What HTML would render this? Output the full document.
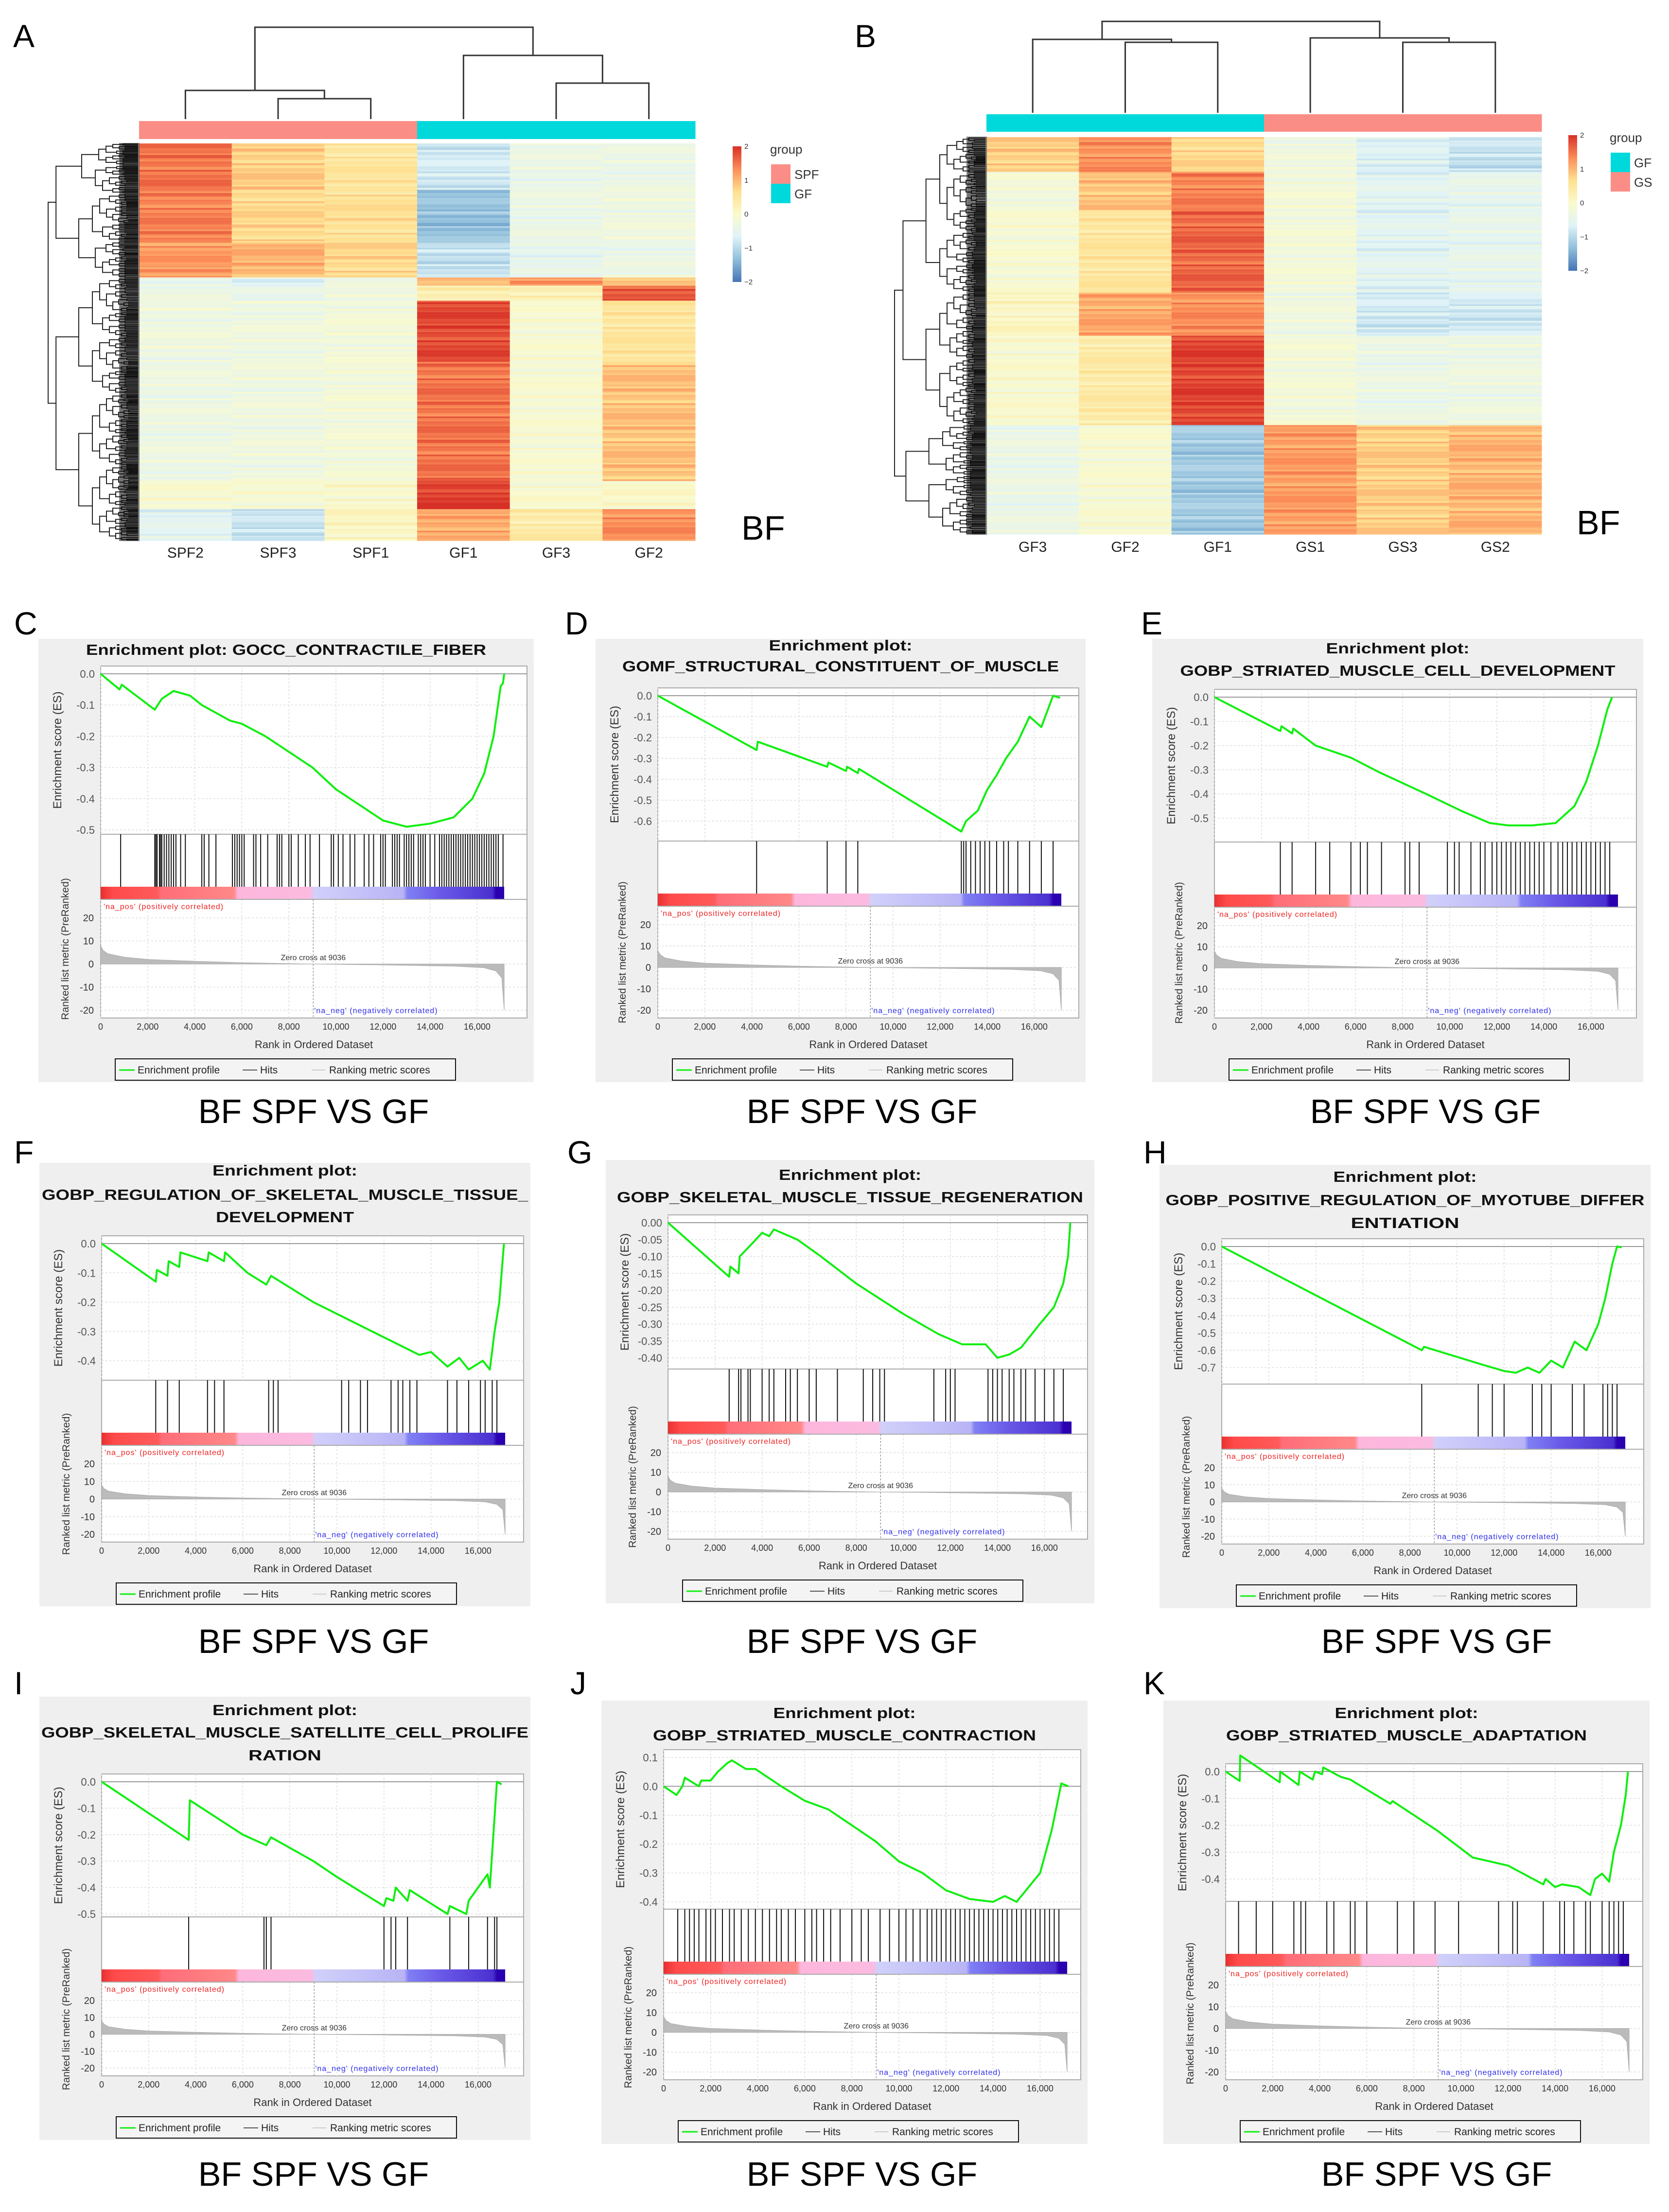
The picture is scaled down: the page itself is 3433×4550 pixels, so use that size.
<!DOCTYPE html>
<html><head><meta charset="utf-8">
<style>
html,body{margin:0;padding:0;background:#fff;}
svg{display:block;font-family:"Liberation Sans",sans-serif;}
</style></head>
<body>
<svg id="fig" xmlns="http://www.w3.org/2000/svg" width="3433" height="4550" viewBox="0 0 3433 4550">
<rect x="0" y="0" width="3433" height="4550" fill="#fff"/>
</svg>
<script>
// ---------- Heatmap data ----------
const colsA = ['SPF2','SPF3','SPF1','GF1','GF3','GF2'];
const groupA = ['SPF','SPF','SPF','GF','GF','GF'];
const segBoundsA = [0, 0.118, 0.251, 0.339, 0.357, 0.394, 0.551, 0.850, 0.919, 1];
const segValsA = [
 [1.5,0.8,0.5,-0.8,-0.4,-0.4],
 [1.4,0.7,0.6,-1.3,-0.4,-0.3],
 [1.2,1.0,0.7,-0.9,-0.5,-0.4],
 [-0.4,-0.7,-0.4,0.9,1.2,0.9],
 [-0.4,-0.5,-0.3,0.3,0.3,1.7],
 [-0.3,-0.3,-0.2,1.8,-0.1,0.5],
 [-0.35,-0.3,-0.2,1.5,-0.1,0.9],
 [-0.1,-0.1,0,1.9,-0.05,0],
 [-0.6,-0.9,0.1,1.1,0.4,1.3]
];
const colsB = ['GF3','GF2','GF1','GS1','GS3','GS2'];
const groupB = ['GF','GF','GF','GS','GS','GS'];
const segBoundsB = [0, 0.086, 0.184, 0.392, 0.502, 0.724, 1];
const segValsB = [
 [0.8,1.3,0.7,-0.3,-0.7,-0.9],
 [-0.2,0.9,1.4,-0.2,-0.6,-0.5],
 [-0.1,0.5,1.6,-0.2,-0.6,-0.5],
 [0.1,1.1,1.3,-0.3,-0.8,-0.8],
 [-0.05,0.4,1.85,-0.2,-0.4,-0.35],
 [-0.4,-0.1,-1.2,1.2,0.8,1.0]
];
const stripe = [0.15,-0.2,0.05,0.3,-0.1,0,-0.25,0.2,0.1,-0.05,0.25,-0.15,0.05,-0.3,0.15,0,0.2,-0.1,0.1,-0.2,0.3,-0.05,0];
const legendTicks = [2,1,0,-1,-2];

// ---------- GSEA data ----------
const xTicks = [0,2000,4000,6000,8000,10000,12000,14000,16000];
const xTickLabels = ['0','2,000','4,000','6,000','8,000','10,000','12,000','14,000','16,000'];
const metricTicks = [20,10,0,-10,-20];
const metricCurve = [[0,8],[0.1,6],[0.3,4.5],[1,3],[2,2],[4,1.2],[6,0.6],[9.036,0],[12,-0.4],[15,-0.9],[16.3,-1.6],[16.8,-3],[17.05,-6],[17.15,-20]];

const C_ticks=[0,-0.1,-0.2,-0.3,-0.4,-0.5];
const C_curve=[[0,0],[0.8,-0.05],[0.9,-0.035],[2.3,-0.115],[2.6,-0.08],[3.1,-0.055],[3.8,-0.07],[4.3,-0.1],[5.5,-0.15],[6,-0.16],[7,-0.2],[9,-0.3],[10,-0.37],[11,-0.42],[12,-0.47],[13,-0.49],[14,-0.48],[15,-0.46],[15.8,-0.4],[16.3,-0.32],[16.7,-0.2],[17,-0.04],[17.1,-0.03],[17.15,0]];
const C_hits=[0.85,2.3,2.35,2.4,2.5,2.55,2.6,2.7,2.8,2.9,3.0,3.1,3.2,3.4,3.6,4.3,4.4,4.6,4.9,5.6,5.7,5.8,5.9,6.0,6.1,6.5,6.6,6.8,7.1,7.5,7.6,7.7,8.0,8.1,8.4,8.7,8.9,9.3,9.8,9.9,10.1,10.3,10.6,10.8,11.2,11.4,11.6,11.9,12.0,12.1,12.4,12.5,12.6,12.7,12.9,13.0,13.1,13.2,13.3,13.5,13.6,13.7,13.8,14.0,14.2,14.4,14.5,14.6,14.7,14.8,14.9,15.0,15.1,15.2,15.3,15.4,15.5,15.6,15.7,15.8,15.9,16.0,16.1,16.2,16.3,16.4,16.5,16.6,16.7,16.8,16.9,17.1];

const D_ticks=[0,-0.1,-0.2,-0.3,-0.4,-0.5,-0.6];
const D_curve=[[0,0],[4.2,-0.26],[4.25,-0.22],[7.2,-0.34],[7.25,-0.32],[8,-0.36],[8.05,-0.34],[8.5,-0.37],[8.55,-0.35],[12.9,-0.65],[13.1,-0.6],[13.6,-0.55],[14,-0.45],[14.4,-0.38],[14.8,-0.3],[15.3,-0.22],[15.8,-0.1],[16.3,-0.15],[16.8,0],[17.1,-0.01]];
const D_hits=[4.2,7.2,8.0,8.5,12.9,13.0,13.1,13.3,13.5,13.7,13.9,14.1,14.4,14.7,14.9,15.3,15.8,16.3,16.8];

const E_ticks=[0,-0.1,-0.2,-0.3,-0.4,-0.5];
const E_curve=[[0,0],[2.8,-0.14],[2.85,-0.12],[3.3,-0.15],[3.35,-0.13],[4.3,-0.2],[5.8,-0.25],[7,-0.31],[9,-0.4],[10.5,-0.47],[11.7,-0.52],[12.5,-0.53],[13.5,-0.53],[14.5,-0.52],[15.3,-0.45],[15.8,-0.35],[16.3,-0.2],[16.7,-0.05],[16.9,0]];
const E_hits=[2.8,3.3,4.3,4.9,5.8,6.2,6.5,7.1,8.1,8.3,8.7,9.9,10.2,10.4,10.9,11.3,11.5,11.8,12.0,12.2,12.4,12.6,12.8,13.0,13.2,13.4,13.6,13.8,14.0,14.3,14.6,14.8,15.0,15.2,15.4,15.6,15.8,16.0,16.2,16.4,16.6,16.8];

const F_ticks=[0,-0.1,-0.2,-0.3,-0.4];
const F_curve=[[0,0],[2.3,-0.13],[2.35,-0.09],[2.8,-0.11],[2.85,-0.06],[3.3,-0.08],[3.35,-0.03],[4.5,-0.06],[4.55,-0.03],[5.2,-0.06],[5.25,-0.03],[6.2,-0.1],[7,-0.14],[7.2,-0.11],[9,-0.2],[10,-0.24],[11.5,-0.3],[12.5,-0.34],[13.5,-0.38],[14,-0.37],[14.7,-0.42],[15.2,-0.39],[15.6,-0.43],[16.2,-0.4],[16.5,-0.43],[16.7,-0.3],[16.9,-0.2],[17.1,0]];
const F_hits=[2.3,2.8,3.3,4.5,4.8,5.2,7.1,7.3,7.5,10.2,10.5,11.0,11.3,12.3,12.6,12.8,13.1,13.4,14.7,15.1,15.6,16.1,16.3,16.6,16.8];

const G_ticks=[0,-0.05,-0.1,-0.15,-0.2,-0.25,-0.3,-0.35,-0.4];
const G_curve=[[0,0],[2.6,-0.16],[2.65,-0.13],[3,-0.15],[3.05,-0.1],[3.6,-0.06],[4,-0.03],[4.3,-0.04],[4.5,-0.02],[5.5,-0.05],[6.5,-0.1],[8,-0.18],[10,-0.27],[11.5,-0.33],[12.5,-0.36],[13.5,-0.36],[14,-0.4],[14.5,-0.39],[15,-0.37],[15.8,-0.3],[16.4,-0.25],[16.8,-0.18],[17,-0.1],[17.1,0]];
const G_hits=[2.6,3.0,3.1,3.4,3.5,4.0,4.3,4.5,5.0,5.2,5.5,6.0,6.3,7.2,8.3,8.7,9.0,9.2,11.3,11.8,12.0,12.2,13.6,13.8,14.0,14.2,14.5,14.7,15.0,15.2,15.6,16.0,16.4,16.8];

const H_ticks=[0,-0.1,-0.2,-0.3,-0.4,-0.5,-0.6,-0.7];
const H_curve=[[0,0],[8.5,-0.6],[8.6,-0.58],[11,-0.68],[12,-0.72],[12.5,-0.73],[13,-0.7],[13.5,-0.73],[14,-0.66],[14.5,-0.7],[15,-0.55],[15.5,-0.6],[16,-0.45],[16.3,-0.3],[16.6,-0.1],[16.8,0],[17,-0.005]];
const H_hits=[8.5,10.9,11.5,12.0,13.2,13.6,14.0,14.9,15.4,16.2,16.4,16.6,16.8];

const I_ticks=[0,-0.1,-0.2,-0.3,-0.4,-0.5];
const I_curve=[[0,0],[3.7,-0.22],[3.75,-0.07],[6,-0.2],[7,-0.24],[7.2,-0.21],[9,-0.3],[10,-0.36],[12,-0.47],[12.1,-0.44],[12.4,-0.45],[12.5,-0.4],[13,-0.45],[13.1,-0.41],[14.7,-0.5],[14.8,-0.47],[15.5,-0.5],[15.6,-0.45],[16.4,-0.35],[16.5,-0.4],[16.8,0],[17,-0.01]];
const I_hits=[3.7,6.9,7.0,7.2,12.0,12.3,12.5,13.0,14.8,15.6,16.4,16.7,16.8];

const J_ticks=[0.1,0,-0.1,-0.2,-0.3,-0.4];
const J_curve=[[0,0],[0.55,-0.03],[0.8,0.0],[0.9,0.03],[1.5,0.0],[1.6,0.02],[2.0,0.02],[2.3,0.05],[2.7,0.08],[2.9,0.09],[3.5,0.06],[3.9,0.06],[5.0,0.0],[6,-0.05],[7,-0.08],[9,-0.19],[10,-0.26],[11,-0.3],[12,-0.36],[13,-0.39],[14,-0.4],[14.5,-0.38],[15,-0.4],[16,-0.3],[16.5,-0.15],[16.9,0.01],[17.2,0]];
const J_hits=[0.6,0.9,1.1,1.3,1.5,1.8,2.0,2.2,2.5,2.8,3.0,3.3,3.6,3.9,4.2,4.5,4.8,5.0,5.3,5.6,6.0,6.3,6.5,6.8,7.1,7.5,8.0,8.4,8.7,9.2,9.6,10.0,10.3,10.6,10.9,11.2,11.4,11.6,11.8,12.0,12.2,12.4,12.6,12.8,13.0,13.2,13.4,13.6,13.8,14.0,14.2,14.4,14.6,14.8,15.0,15.2,15.4,15.6,15.8,16.0,16.2,16.4,16.6,16.8];

const K_ticks=[0,-0.1,-0.2,-0.3,-0.4];
const K_curve=[[0,0],[0.6,-0.035],[0.62,0.06],[2.3,-0.04],[2.32,0.0],[3.1,-0.05],[3.15,0.0],[3.7,-0.03],[3.8,0.0],[4.1,-0.01],[4.15,0.015],[4.9,-0.02],[5.3,-0.03],[7,-0.12],[7.1,-0.11],[9,-0.22],[10.5,-0.32],[11,-0.33],[12,-0.35],[13.5,-0.42],[13.6,-0.4],[14,-0.43],[14.3,-0.42],[15,-0.43],[15.5,-0.46],[15.7,-0.4],[16,-0.38],[16.3,-0.41],[16.5,-0.3],[16.8,-0.2],[17,-0.09],[17.1,0]];
const K_hits=[0.55,1.3,2.0,2.9,3.2,3.4,4.3,4.6,5.3,5.5,6.0,7.3,8.0,8.9,9.9,11.6,12.2,12.4,13.5,14.2,14.4,14.8,15.3,15.5,16.0,16.3,16.5,16.7,16.9];

// ---------- helpers ----------
const NS='http://www.w3.org/2000/svg';
const svg=document.getElementById('fig');
function mk(tag,attrs,parent){const e=document.createElementNS(NS,tag);for(const k in attrs)e.setAttribute(k,attrs[k]);(parent||svg).appendChild(e);return e;}
function txt(s,attrs,parent){const e=mk('text',attrs,parent);e.textContent=s;return e;}

const cstops=[[-2,[69,117,180]],[-1.33,[145,191,219]],[-0.67,[224,243,248]],[0,[250,250,205]],[0.67,[254,224,144]],[1.33,[252,141,89]],[2,[215,48,39]]];
function cmap(v){v=Math.max(-2,Math.min(2,v));for(let i=0;i<cstops.length-1;i++){const a=cstops[i],b=cstops[i+1];if(v<=b[0]){const t=(v-a[0])/(b[0]-a[0]);const c=a[1].map((x,j)=>Math.round(x+(b[1][j]-x)*t));return 'rgb('+c.join(',')+')';}}return 'rgb(215,48,39)';}
const groupColor={SPF:'#fa8e86',GF:'#00d9dc',GS:'#fa8e86'};

function heatmap(o){
  const g=mk('g',{});
  
  
  const nc=o.cols.length, cw=(o.x1-o.x0)/nc, H=o.y1-o.y0, nRows=240, rh=H/nRows;
  // annotation bar
  for(let c=0;c<nc;c++){
    const r=mk('rect',{x:o.x0+c*cw,y:o.barY0,width:cw+0.5,height:o.barY1-o.barY0,fill:groupColor[o.groups[c]]},g);
    
    
  }
  // cells
  for(let r=0;r<nRows;r++){
    const f=(r+0.5)/nRows;
    let s=0; while(s<o.bounds.length-2 && f>o.bounds[s+1]) s++;
    for(let c=0;c<nc;c++){
      const v=o.vals[s][c]+stripe[(r*7+c*5)%stripe.length]*0.8;
      mk('rect',{x:o.x0+c*cw,y:o.y0+r*rh,width:cw+0.5,height:rh+0.6,fill:cmap(v)},g);
    }
  }
  // column labels
  for(let c=0;c<nc;c++){
    const t=txt(o.cols[c],{x:o.x0+(c+0.5)*cw,y:o.labelY,'font-size':30,'text-anchor':'middle',fill:'#222'},g);
    
    
  }
  // top dendrogram
  const cx=c=>o.x0+(c+0.5)*cw;
  const dg=mk('g',{stroke:'#333','stroke-width':3,fill:'none'},g);
  
  
  function U(xa,ya,xb,yb,yt){mk('path',{d:`M${xa},${ya}V${yt}H${xb}V${yb}`},dg);}
  o.dendro(U,cx);
  // row dendrogram (decorative)
  const rg=mk('g',{stroke:'#222','stroke-width':2,fill:'none'},g);
  
  
  const leafX=o.x0-2, minX=o.rdX;
  function tree(a,b,depth){
    const mid=(a+b)/2;
    if(b-a<4||depth>9){mk('path',{d:`M${leafX-40+depth*3},${mid}H${leafX}`},rg);return [leafX-40+depth*3,mid];}
    const split=a+(b-a)*(0.35+((depth*37+Math.round(a))%30)/100);
    const L=tree(a,split,depth+1), R=tree(split,b,depth+1);
    const x=Math.min(L[0],R[0])-(depth<3?(o.x0-minX)*(0.35-depth*0.1):18-depth);
    mk('path',{d:`M${L[0]},${L[1]}H${x}V${R[1]}H${R[0]}`},rg);
    return [x,(L[1]+R[1])/2];
  }
  const sp=o.y0+H*o.rowSplit;
  const L=tree(o.y0,sp,1),R=tree(sp,o.y1,1);
  mk('path',{d:`M${L[0]},${L[1]}H${minX}V${R[1]}H${R[0]}`},rg);
  mk('rect',{x:o.x0-40,y:o.y0,width:40,height:H,fill:'#000',opacity:0.55},rg);
  // color legend
  const lg=mk('g',{},g);
  
  
  const gid='grad'+o.name;
  const defs=mk('defs',{},lg);
  const lgr=mk('linearGradient',{id:gid,x1:0,y1:0,x2:0,y2:1},defs);
  for(let i=cstops.length-1;i>=0;i--){mk('stop',{offset:((2-cstops[i][0])/4*100)+'%','stop-color':cmap(cstops[i][0])},lgr);}
  mk('rect',{x:o.cbX,y:o.cbY0,width:18,height:o.cbY1-o.cbY0,fill:`url(#${gid})`},lg);
  legendTicks.forEach(v=>{
    const y=o.cbY0+(2-v)/4*(o.cbY1-o.cbY0);
    txt(String(v).replace('-','−'),{x:o.cbX+24,y:y+5,'font-size':15,fill:'#333'},lg);
  });
  txt('group',{x:o.gX,y:o.gY,'font-size':26,fill:'#333'},lg);
  o.legendGroups.forEach((gname,i)=>{
    const rr=mk('rect',{x:o.gX+2,y:o.gY+22+i*40,width:40,height:40,fill:groupColor[gname]},lg);
    
    
    txt(gname,{x:o.gX+50,y:o.gY+52+i*40,'font-size':26,fill:'#333'},lg);
  });
  const bf=txt('BF',{x:o.bfX,y:o.bfY,'font-size':70,fill:'#000'},g);
  
  
}

heatmap({name:'heatmap-a',cols:colsA,groups:groupA,bounds:segBoundsA,vals:segValsA,
 x0:286,x1:1430,y0:295,y1:1112,barY0:249,barY1:286,labelY:1147,rdX:99,rowSplit:0.339,
 cbX:1507,cbY0:301,cbY1:580,gX:1584,gY:316,legendGroups:['SPF','GF'],bfX:1525,bfY:1110,
 dendro:(U,cx)=>{const b=245;
   U(cx(1),b,cx(2),b,203); const l=(cx(1)+cx(2))/2;
   U(cx(0),b,l,203,186); const lc=(cx(0)+l)/2;
   U(cx(4),b,cx(5),b,171); const r=(cx(4)+cx(5))/2;
   U(cx(3),b,r,171,114); const rc=(cx(3)+r)/2;
   U(lc,186,rc,114,56);}});
heatmap({name:'heatmap-b',cols:colsB,groups:groupB,bounds:segBoundsB,vals:segValsB,
 x0:2029,x1:3171,y0:282,y1:1099,barY0:235,barY1:271,labelY:1135,rdX:1840,rowSplit:0.724,
 cbX:3226,cbY0:278,cbY1:557,gX:3311,gY:292,legendGroups:['GF','GS'],bfX:3243,bfY:1099,
 dendro:(U,cx)=>{const b=232;
   U(cx(1),b,cx(2),b,87); const l=(cx(1)+cx(2))/2;
   U(cx(0),b,l,87,81); const lc=(cx(0)+l)/2;
   U(cx(4),b,cx(5),b,87); const r=(cx(4)+cx(5))/2;
   U(cx(3),b,r,87,78); const rc=(cx(3)+r)/2;
   U(lc,81,rc,78,44);}});

function letter(s,x,y){const t=txt(s,{x:x,y:y,'font-size':66,fill:'#000'});
  
  }
letter('A',27,97);letter('B',1758,97);

// ---------- GSEA panels ----------
const panels=[
 {id:'c',x:79,y:1314,w:1019,titles:[['Enrichment plot: GOCC_CONTRACTILE_FIBER',1336,823]],ticks:C_ticks,t0Y:1386,t1Y:1707,hitsTop:1716,curve:C_curve,hits:C_hits,lx:29,ly:1305,capX:645,capY:2310},
 {id:'d',x:1225,y:1314,w:1008,titles:[['Enrichment plot:',1327,295],['GOMF_STRUCTURAL_CONSTITUENT_OF_MUSCLE',1370,898]],ticks:D_ticks,t0Y:1431,t1Y:1689,hitsTop:1730,curve:D_curve,hits:D_hits,lx:1162,ly:1305,capX:1773,capY:2310},
 {id:'e',x:2370,y:1314,w:1010,titles:[['Enrichment plot:',1333,295],['GOBP_STRIATED_MUSCLE_CELL_DEVELOPMENT',1379,895]],ticks:E_ticks,t0Y:1434,t1Y:1683,hitsTop:1732,curve:E_curve,hits:E_hits,lx:2347,ly:1305,capX:2932,capY:2310},
 {id:'f',x:81,y:2392,w:1010,titles:[['Enrichment plot:',2407,298],['GOBP_REGULATION_OF_SKELETAL_MUSCLE_TISSUE_',2457,1000],['DEVELOPMENT',2503,284]],ticks:F_ticks,t0Y:2558,t1Y:2799,hitsTop:2839,curve:F_curve,hits:F_hits,lx:29,ly:2393,capX:645,capY:3400},
 {id:'g',x:1246,y:2386,w:1005,titles:[['Enrichment plot:',2416,293],['GOBP_SKELETAL_MUSCLE_TISSUE_REGENERATION',2462,959]],ticks:G_ticks,t0Y:2515,t1Y:2793,hitsTop:2816,curve:G_curve,hits:G_hits,lx:1167,ly:2393,capX:1773,capY:3400},
 {id:'h',x:2385,y:2396,w:1010,titles:[['Enrichment plot:',2420,295],['GOBP_POSITIVE_REGULATION_OF_MYOTUBE_DIFFER',2468,985],['ENTIATION',2515,223]],ticks:H_ticks,t0Y:2564,t1Y:2813,hitsTop:2847,curve:H_curve,hits:H_hits,lx:2352,ly:2393,capX:2955,capY:3400},
 {id:'i',x:81,y:3490,w:1010,titles:[['Enrichment plot:',3517,298],['GOBP_SKELETAL_MUSCLE_SATELLITE_CELL_PROLIFE',3563,1002],['RATION',3610,150]],ticks:I_ticks,t0Y:3665,t1Y:3937,hitsTop:3943,curve:I_curve,hits:I_hits,lx:29,ly:3485,capX:645,capY:4496},
 {id:'j',x:1237,y:3498,w:1000,titles:[['Enrichment plot:',3523,293],['GOBP_STRIATED_MUSCLE_CONTRACTION',3569,788]],ticks:J_ticks,t0Y:3615,t1Y:3912,hitsTop:3927,curve:J_curve,hits:J_hits,lx:1173,ly:3485,capX:1773,capY:4496},
 {id:'k',x:2393,y:3498,w:1000,titles:[['Enrichment plot:',3523,295],['GOBP_STRIATED_MUSCLE_ADAPTATION',3569,742]],ticks:K_ticks,t0Y:3644,t1Y:3865,hitsTop:3911,curve:K_curve,hits:K_hits,lx:2352,ly:3485,capX:2955,capY:4496}
];

function gsea(p){
  const g=mk('g',{});
  
  
  const H=912;
  mk('rect',{x:p.x,y:p.y,width:p.w,height:H,fill:'#efefef'},g);
  p.titles.forEach(t=>{
    const e=txt(t[0],{x:p.x+p.w/2,y:t[1]+11,'font-size':31,'font-weight':'bold','text-anchor':'middle',fill:'#111',textLength:t[2],lengthAdjust:'spacingAndGlyphs'},g);
    
    
  });
  const pl=p.x+128, pr=p.x+p.w-14;
  const sx=k=>pl+k*48.4; // k in thousands
  const v0=p.ticks[0], v1=p.ticks[p.ticks.length-1];
  const sy=v=>p.t0Y+(v-v0)/(v1-v0)*(p.t1Y-p.t0Y);
  const pt=p.t0Y-16, hb=p.hitsTop, hitsBot=hb+108, barBot=hitsBot+26, plotBot=p.y+780;
  const m20=barBot+38, mM20=p.y+764;
  const sm=v=>m20+(20-v)/40*(mM20-m20);
  mk('rect',{x:pl,y:pt,width:pr-pl,height:plotBot-pt,fill:'#fff',stroke:'#aaa','stroke-width':2},g);
  // grids
  const grid=mk('g',{stroke:'#ddd','stroke-width':1.5,'stroke-dasharray':'4,4'},g);
  xTicks.forEach(t=>{mk('line',{x1:sx(t/1000),x2:sx(t/1000),y1:pt,y2:hb},grid);mk('line',{x1:sx(t/1000),x2:sx(t/1000),y1:barBot,y2:plotBot},grid);});
  p.ticks.forEach(v=>mk('line',{x1:pl,x2:pr,y1:sy(v),y2:sy(v)},grid));
  metricTicks.forEach(v=>mk('line',{x1:pl,x2:pr,y1:sm(v),y2:sm(v)},grid));
  mk('line',{x1:pl,x2:pr,y1:sy(0),y2:sy(0),stroke:'#999','stroke-width':2},g);
  // ES tick labels
  p.ticks.forEach(v=>{
    const s=(p.ticks.some(q=>Math.abs(q*100)%10>0.01)?v.toFixed(2):v.toFixed(1)).replace('0.00','0.00');
    txt(v===0?(s.startsWith('-')?s.slice(1):s):s,{x:pl-12,y:sy(v)+8,'font-size':22,'text-anchor':'end',fill:'#555'},g);
  });
  const yt=txt('Enrichment score (ES)',{x:0,y:0,'font-size':24,'text-anchor':'middle',fill:'#333',transform:`translate(${p.x+47},${(pt+hb)/2}) rotate(-90)`},g);
  
  
  // ES curve
  const es=mk('path',{d:p.curve.map((c,i)=>(i?'L':'M')+sx(c[0]).toFixed(1)+','+sy(c[1]).toFixed(1)).join(''),fill:'none',stroke:'#11ee11','stroke-width':4,'stroke-linejoin':'round'},g);
  
  
  // hits
  mk('line',{x1:pl,x2:pr,y1:hb,y2:hb,stroke:'#aaa','stroke-width':2},g);
  const hg=mk('g',{stroke:'#111','stroke-width':2},g);
  
  
  p.hits.forEach(h=>mk('line',{x1:sx(h),x2:sx(h),y1:hb,y2:hitsBot},hg));
  // color bar
  const gid='rb'+p.id;
  const defs=mk('defs',{},g);
  const lgr=mk('linearGradient',{id:gid,x1:0,y1:0,x2:1,y2:0},defs);
  [[0,'#e83030'],[0.03,'#ff4a4a'],[0.14,'#ff5a5a'],[0.15,'#ff6d78'],[0.33,'#ff8888'],[0.34,'#fdb6dc'],[0.52,'#fbbbe0'],[0.53,'#d0d0fa'],[0.75,'#b8b4f6'],[0.76,'#8080f4'],[0.84,'#6a5ae8'],[0.97,'#4a30d0'],[0.98,'#2a00b0'],[1,'#2a00b0']].forEach(s=>mk('stop',{offset:s[0]*100+'%','stop-color':s[1]},lgr));
  const cb=mk('rect',{x:pl,y:hitsBot,width:sx(17.15)-pl,height:26,fill:`url(#${gid})`},g);
  
  
  mk('line',{x1:pl,x2:pr,y1:barBot,y2:barBot,stroke:'#aaa','stroke-width':2},g);
  // metric
  const mp=mk('path',{d:'M'+sx(0)+','+sm(0)+metricCurve.map(c=>'L'+sx(c[0]).toFixed(1)+','+sm(c[1]).toFixed(1)).join('')+'L'+sx(17.15)+','+sm(0)+'Z',fill:'#bbb',stroke:'#aaa','stroke-width':1},g);
  
  
  mk('line',{x1:sx(9.036),x2:sx(9.036),y1:barBot,y2:plotBot,stroke:'#999','stroke-width':1.5,'stroke-dasharray':'4,3'},g);
  metricTicks.forEach(v=>txt(String(v),{x:pl-14,y:sm(v)+7,'font-size':20,'text-anchor':'end',fill:'#333'},g));
  txt("'na_pos' (positively correlated)",{x:pl+6,y:barBot+20,'font-size':16,fill:'#ee2222','letter-spacing':1},g);
  txt("'na_neg' (negatively correlated)",{x:sx(9.036)+2,y:mM20+6,'font-size':16,fill:'#3333ee','letter-spacing':1},g);
  txt('Zero cross at 9036',{x:sx(9.036),y:sm(0)-8,'font-size':16,'text-anchor':'middle',fill:'#333'},g);
  const rt=txt('Ranked list metric (PreRanked)',{x:0,y:0,'font-size':21,'text-anchor':'middle',fill:'#333',transform:`translate(${p.x+62},${(barBot+plotBot)/2-20}) rotate(-90)`},g);
  
  
  xTicks.forEach((t,i)=>txt(xTickLabels[i],{x:sx(t/1000),y:plotBot+24,'font-size':18,'text-anchor':'middle',fill:'#333'},g));
  const xt=txt('Rank in Ordered Dataset',{x:(pl+pr)/2,y:plotBot+62,'font-size':22,'text-anchor':'middle',fill:'#333'},g);
  
  
  // legend
  const lg=mk('g',{},g);
  
  
  const lx=p.x+158, ly=p.y+864;
  mk('rect',{x:lx,y:ly,width:700,height:44,fill:'#f4f4f4',stroke:'#111','stroke-width':2},lg);
  mk('line',{x1:lx+8,x2:lx+40,y1:ly+23,y2:ly+23,stroke:'#11ee11','stroke-width':3},lg);
  txt('Enrichment profile',{x:lx+46,y:ly+30,'font-size':21,fill:'#222'},lg);
  mk('line',{x1:lx+262,x2:lx+292,y1:ly+23,y2:ly+23,stroke:'#555','stroke-width':2},lg);
  txt('Hits',{x:lx+298,y:ly+30,'font-size':21,fill:'#222'},lg);
  mk('line',{x1:lx+404,x2:lx+432,y1:ly+23,y2:ly+23,stroke:'#ccc','stroke-width':2},lg);
  txt('Ranking metric scores',{x:lx+440,y:ly+30,'font-size':21,fill:'#222'},lg);
  // letter + caption
  letter(p.id.toUpperCase(),p.lx,p.ly);
  const cap=txt('BF SPF VS GF',{x:p.capX,y:p.capY,'font-size':70,'text-anchor':'middle',fill:'#000'});
  
  
}
panels.forEach(gsea);
</script>
</body></html>
